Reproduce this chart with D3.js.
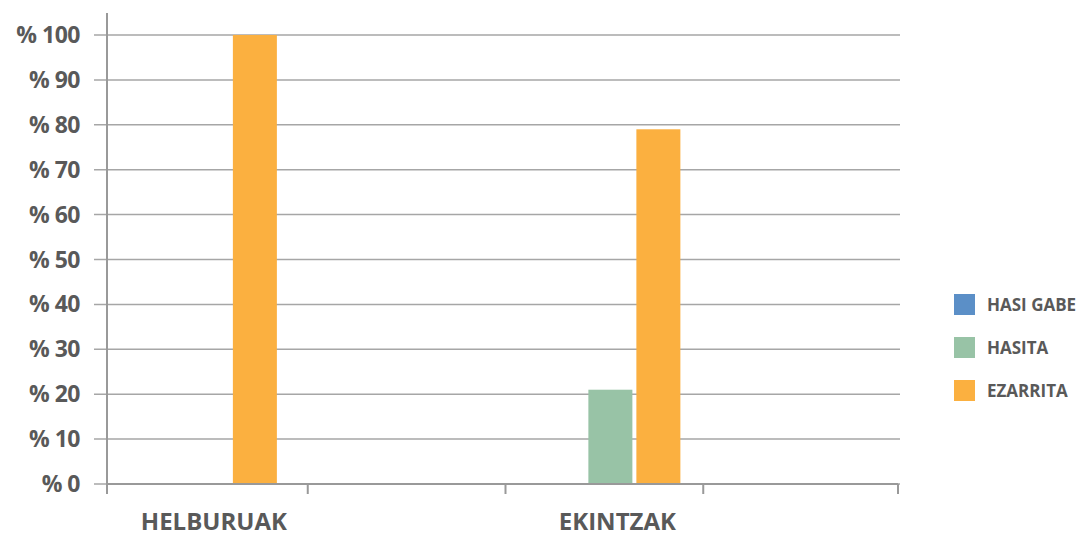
<!DOCTYPE html>
<html>
<head>
<meta charset="utf-8">
<script src="https://cdn.jsdelivr.net/npm/d3@7"></script>
<style>
  body { margin: 0; background: #fff; }
  text { font-family: "Open Sans", sans-serif; font-weight: 700; fill: #595959; }
</style>
</head>
<body>
<script>
//data
const categories = ["HELBURUAK", "EKINTZAK"];
const series = ["HASI GABE", "HASITA", "EZARRITA"];
const hasiGabe = [0, 0];
const hasita = [0, 21];
const ezarrita = [100, 79];
const yTicks = [0, 10, 20, 30, 40, 50, 60, 70, 80, 90, 100];
const colours = ["#5b8fc7", "#98c3a6", "#fbb040"];

const dims = { height: 536, width: 1078 };
const m = { left: 107, right: 898, top: 35, bottom: 484 };

const svg = d3.select("body").append("svg")
    .attr("width", dims.width)
    .attr("height", dims.height);

const values = [hasiGabe, hasita, ezarrita];
const data = [];
categories.forEach((c, i) => {
    series.forEach((s, j) => data.push({ cat: i, serie: s, idx: j, value: values[j][i] }));
});

const y = d3.scaleLinear().domain([0, 100]).range([m.bottom, m.top]);

// 4 slots along x, each category sits in the first slot of its pair
const x = d3.scaleLinear().domain([0, 4]).range([m.left, m.right]);
const inner = d3.scaleBand().domain(series).range([-70, 70]).paddingInner(4 / 48);
const shift = [1, 9]; // small nudge per category

// grid
svg.append("g")
    .selectAll("line")
    .data(yTicks)
    .enter().append("line")
        .attr("x1", m.left - 13)
        .attr("x2", 900)
        .attr("y1", d => y(d))
        .attr("y2", d => y(d))
        .attr("stroke", "#a6a6a6")
        .attr("stroke-width", 1.5);

// y labels
svg.append("g")
    .selectAll("text")
    .data(yTicks)
    .enter().append("text")
        .attr("x", 80)
        .attr("y", d => y(d) + 8)
        .attr("text-anchor", "end")
        .attr("font-size", 23)
        .attr("letter-spacing", -0.5)
        .text(d => "% " + d);

// bars
svg.append("g")
    .selectAll("rect")
    .data(data.filter(d => d.value > 0))
    .enter().append("rect")
        .attr("x", d => x(d.cat * 2 + 0.5) + inner(d.serie) + shift[d.cat])
        .attr("y", d => y(d.value))
        .attr("width", inner.bandwidth())
        .attr("height", d => y(0) - y(d.value))
        .attr("fill", d => colours[d.idx]);

// axes lines
svg.append("line")
    .attr("x1", m.left).attr("x2", m.left)
    .attr("y1", 13).attr("y2", 494)
    .attr("stroke", "#999").attr("stroke-width", 2);

svg.append("line")
    .attr("x1", m.left).attr("x2", m.right)
    .attr("y1", m.bottom).attr("y2", m.bottom)
    .attr("stroke", "#999").attr("stroke-width", 2);

svg.append("g")
    .selectAll("line")
    .data([0, 1, 2, 3, 4])
    .enter().append("line")
        .attr("x1", d => x(d) + (d % 4 ? 3 : 0)).attr("x2", d => x(d) + (d % 4 ? 3 : 0))
        .attr("y1", m.bottom).attr("y2", 494)
        .attr("stroke", "#999").attr("stroke-width", 2);

// x labels
svg.append("g")
    .selectAll("text")
    .data(categories)
    .enter().append("text")
        .attr("x", (d, i) => x(i * 2 + 0.5) + 7 + shift[i])
        .attr("y", 530)
        .attr("text-anchor", "middle")
        .attr("font-size", 24)
        .text(d => d);

// legend
const legend = svg.append("g").attr("transform", "translate(954, 294)");
series.forEach((s, i) => {
    legend.append("rect")
        .attr("x", 0).attr("y", i * 43)
        .attr("width", 21).attr("height", 21)
        .attr("fill", colours[i]);
    legend.append("text")
        .attr("x", 33).attr("y", i * 43 + 17)
        .attr("font-size", 17)
        .text(s);
});
</script>
</body>
</html>
